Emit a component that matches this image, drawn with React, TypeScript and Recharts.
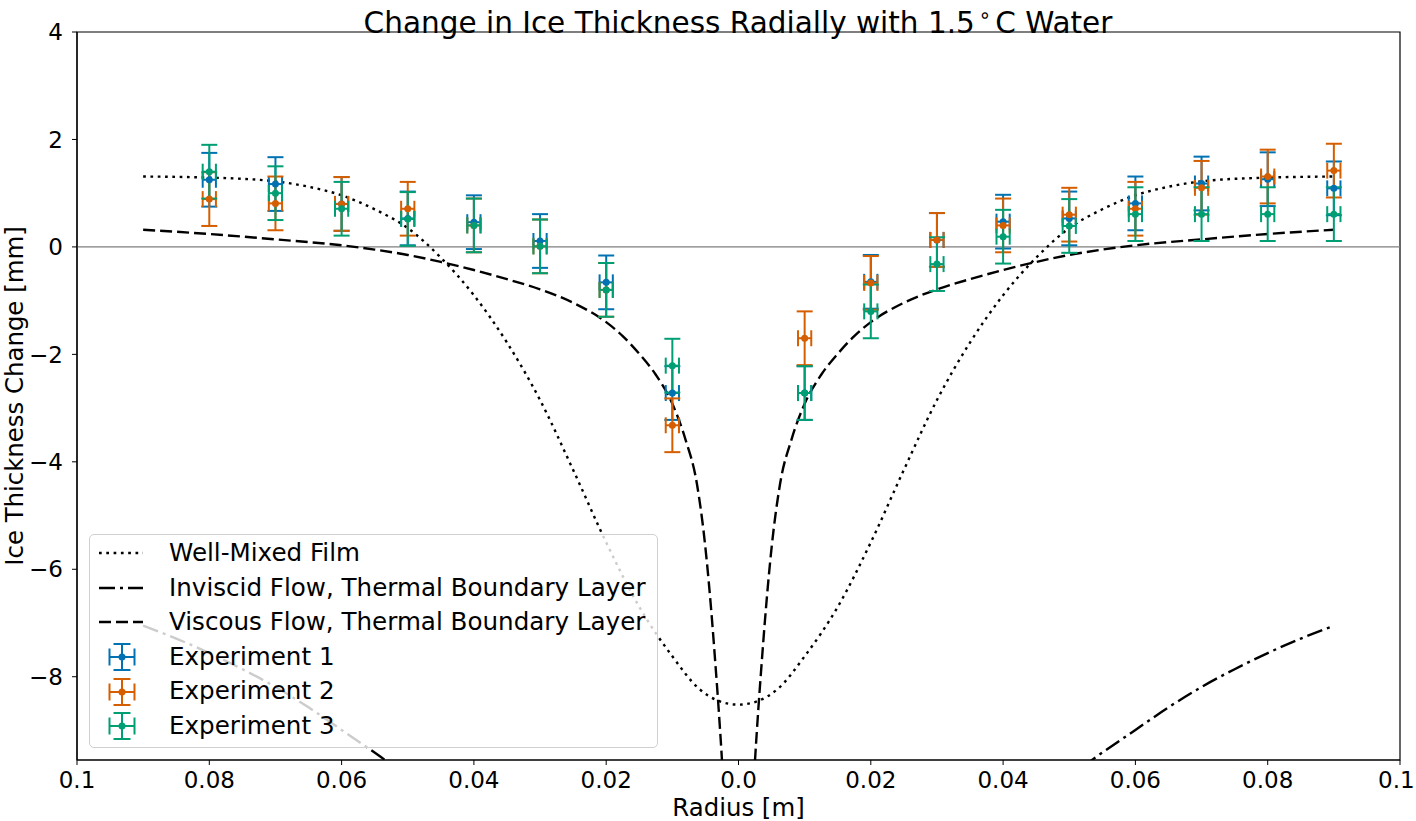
import React from 'react';
import {
  ComposedChart,
  Line,
  Scatter,
  XAxis,
  YAxis,
  ErrorBar,
  ReferenceLine,
  ReferenceArea,
} from 'recharts';

// axis ticks
const radiusTicks = [-0.1, -0.08, -0.06, -0.04, -0.02, 0, 0.02, 0.04, 0.06, 0.08, 0.1];
const radiusTickLabels = ['0.1', '0.08', '0.06', '0.04', '0.02', '0.0', '0.02', '0.04', '0.06', '0.08', '0.1'];
const changeTicks = [-8, -6, -4, -2, 0, 2, 4];
const changeTickLabels = ['−8', '−6', '−4', '−2', '0', '2', '4'];

// model curves, half profile (radius >= 0), symmetric about the centre
const filmRadius = [0, 0.003, 0.006, 0.01, 0.015, 0.02, 0.025, 0.03, 0.035, 0.04, 0.045, 0.05, 0.055, 0.06, 0.065, 0.07, 0.08, 0.09];
const filmChange = [-8.52, -8.45, -8.22, -7.62, -6.7, -5.5, -4.15, -2.85, -1.78, -0.9, -0.2, 0.35, 0.7, 0.96, 1.12, 1.22, 1.29, 1.31];

const inviscidRadius = [0.052, 0.054, 0.06, 0.065, 0.07, 0.075, 0.08, 0.085, 0.09];
const inviscidChange = [-9.68, -9.5, -8.99, -8.57, -8.19, -7.86, -7.56, -7.29, -7.05];

const viscousRadius = [0.0022, 0.0025, 0.003, 0.0035, 0.004, 0.005, 0.0063, 0.008, 0.01, 0.0125, 0.015, 0.0175, 0.02, 0.025, 0.03, 0.035, 0.04, 0.045, 0.05, 0.055, 0.06, 0.07, 0.08, 0.09];
const viscousChange = [-10.2, -9.55, -8.6, -7.75, -6.95, -5.6, -4.4, -3.59, -2.92, -2.38, -1.99, -1.66, -1.4, -1.04, -0.79, -0.6, -0.43, -0.28, -0.15, -0.05, 0.03, 0.14, 0.24, 0.32];

// measurements
const expRadius = [-0.08, -0.07, -0.06, -0.05, -0.04, -0.03, -0.02, -0.01, 0.01, 0.02, 0.03, 0.04, 0.05, 0.06, 0.07, 0.08, 0.09];
const exp1Change = [1.25, 1.17, 0.8, 0.53, 0.46, 0.11, -0.66, -2.72, -2.72, -0.65, 0.13, 0.47, 0.53, 0.81, 1.18, 1.26, 1.09];
const exp2Change = [0.89, 0.81, 0.8, 0.71, 0.4, 0.01, -0.8, -3.32, -1.7, -0.67, 0.13, 0.4, 0.6, 0.71, 1.1, 1.31, 1.42];
const exp3Change = [1.4, 1.0, 0.71, 0.52, 0.4, 0.01, -0.8, -2.21, -2.72, -1.2, -0.32, 0.19, 0.39, 0.61, 0.61, 0.61, 0.61];
const changeError = 0.5;
const radiusError = 0.001;

const FONT = '"DejaVu Sans", sans-serif';
const COLORS = ['#0072B2', '#D55E00', '#009E73'];
const WIDTH = 1416;
const HEIGHT = 821;

// mirror a half profile; gap=true breaks the line at the centre
const mirror = (radius: number[], change: number[], gap: boolean) => {
  const left = radius
    .map((r, i) => ({ x: -r, y: change[i] }))
    .filter((p) => p.x !== 0)
    .reverse();
  const right = radius.map((r, i) => ({ x: r, y: change[i] }));
  return gap ? [...left, { x: 0, y: null }, ...right] : [...left, ...right];
};

const filmData = mirror(filmRadius, filmChange, false);
const inviscidData = mirror(inviscidRadius, inviscidChange, true);
const viscousData = mirror(viscousRadius, viscousChange, true);

const expRows = (values: number[]) =>
  expRadius.map((r, i) => ({ x: r, y: values[i], ex: radiusError, ey: changeError }));

const experiments = [
  { name: 'Experiment 1', data: expRows(exp1Change), color: COLORS[0] },
  { name: 'Experiment 2', data: expRows(exp2Change), color: COLORS[1] },
  { name: 'Experiment 3', data: expRows(exp3Change), color: COLORS[2] },
];

const DOTTED = '2.7 4.6';
const DASHDOT = '16 5 3 5';
const DASHED = '12 5';

const LABEL_SIZE = 24.4;
const TICK_SIZE = 23;

const lookup = (ticks: number[], labels: string[], v: number) =>
  labels[ticks.findIndex((t) => Math.abs(t - v) < 1e-9)] ?? '';

// x tick: keep the outermost label inside the picture
const RadiusTick = ({ x, y, payload }: any) => {
  const label = lookup(radiusTicks, radiusTickLabels, payload.value);
  const half = label.length * TICK_SIZE * 0.27;
  const cx = Math.min(x, WIDTH - half - 1);
  return (
    <text x={cx} y={y} dy="0.71em" textAnchor="middle" fontSize={TICK_SIZE} fill="#000" fontFamily={FONT}>
      {label}
    </text>
  );
};

const XAxisTitle = ({ viewBox }: any) => (
  <text x={viewBox.x + viewBox.width / 2} y={viewBox.y + 56} textAnchor="middle" fontSize={LABEL_SIZE} fill="#000" fontFamily={FONT}>
    Radius [m]
  </text>
);

const YAxisTitle = ({ viewBox }: any) => {
  const cx = 23;
  const cy = viewBox.y + viewBox.height / 2;
  return (
    <text x={cx} y={cy} transform={`rotate(-90 ${cx} ${cy})`} textAnchor="middle" fontSize={LABEL_SIZE} fill="#000" fontFamily={FONT}>
      Ice Thickness Change [mm]
    </text>
  );
};

const Dot = (props: any) => <circle cx={props.cx} cy={props.cy} r={3.5} fill={props.fill} />;

const LineIcon = ({ dash }: { dash: string }) => (
  <svg width={44} height={10}>
    <line x1={0} y1={5} x2={44} y2={5} stroke="#000" strokeWidth={2.4} strokeDasharray={dash} />
  </svg>
);

const ErrorIcon = ({ color }: { color: string }) => (
  <svg width={44} height={30}>
    <g stroke={color} strokeWidth={2}>
      <line x1={23} y1={2} x2={23} y2={28} />
      <line x1={14.5} y1={2} x2={31.5} y2={2} />
      <line x1={14.5} y1={28} x2={31.5} y2={28} />
      <line x1={10.5} y1={15} x2={35.5} y2={15} />
      <line x1={10.5} y1={6.5} x2={10.5} y2={23.5} />
      <line x1={35.5} y1={6.5} x2={35.5} y2={23.5} />
    </g>
    <circle cx={23} cy={15} r={3.5} fill={color} />
  </svg>
);

const legendItems = [
  { label: 'Well-Mixed Film', icon: <LineIcon dash={DOTTED} /> },
  { label: 'Inviscid Flow, Thermal Boundary Layer', icon: <LineIcon dash={DASHDOT} /> },
  { label: 'Viscous Flow, Thermal Boundary Layer', icon: <LineIcon dash={DASHED} /> },
  ...experiments.map((e) => ({ label: e.name, icon: <ErrorIcon color={e.color} /> })),
];

const App = () => {
  const changeLabel = (v: number) => lookup(changeTicks, changeTickLabels, v);

  return (
    <div style={{ position: 'absolute', left: 0, top: 0, width: WIDTH, height: HEIGHT, background: '#fff', fontFamily: FONT }}>
      <div
        style={{
          position: 'absolute',
          left: 77,
          width: 1322,
          top: 0,
          textAlign: 'center',
          fontSize: 29.5,
          lineHeight: '30px',
          color: '#000',
          whiteSpace: 'nowrap',
        }}
      >
        Change in Ice Thickness Radially with 1.5
        <span style={{ fontSize: '0.7em', verticalAlign: '0.55em', margin: '0 0.18em' }}>∘</span>C Water
      </div>

      <ComposedChart width={WIDTH} height={HEIGHT} margin={{ top: 32, right: 16, bottom: 0, left: 0 }}>
        <XAxis
          dataKey="x"
          type="number"
          domain={[-0.1, 0.1]}
          ticks={radiusTicks}
          interval={0}
          allowDataOverflow
          height={61}
          tickSize={5}
          tickMargin={7}
          tick={<RadiusTick />}
          tickLine={{ stroke: '#000' }}
          axisLine={{ stroke: '#000', strokeWidth: 1.2 }}
          label={<XAxisTitle />}
        />
        <YAxis
          dataKey="y"
          type="number"
          domain={[-9.55, 4]}
          ticks={changeTicks}
          interval={0}
          allowDataOverflow
          tickFormatter={changeLabel}
          width={77}
          tickSize={5}
          tickMargin={9}
          tick={{ fill: '#000', fontSize: TICK_SIZE, fontFamily: FONT }}
          tickLine={{ stroke: '#000' }}
          axisLine={{ stroke: '#000', strokeWidth: 1.2 }}
          label={<YAxisTitle />}
        />
        <ReferenceLine y={0} stroke="#7f7f7f" strokeWidth={1.2} />

        <Line data={filmData} dataKey="y" type="monotone" stroke="#000" strokeWidth={2.4} strokeDasharray={DOTTED} dot={false} isAnimationActive={false} />
        <Line data={inviscidData} dataKey="y" type="monotone" stroke="#000" strokeWidth={2.4} strokeDasharray={DASHDOT} dot={false} isAnimationActive={false} />
        <Line data={viscousData} dataKey="y" type="monotone" stroke="#000" strokeWidth={2.4} strokeDasharray={DASHED} dot={false} isAnimationActive={false} />

        {experiments.map((e) => (
          <Scatter key={e.name} name={e.name} data={e.data} fill={e.color} shape={<Dot />} isAnimationActive={false}>
            <ErrorBar dataKey="ey" direction="y" width={8} stroke={e.color} strokeWidth={2} isAnimationActive={false} />
            <ErrorBar dataKey="ex" direction="x" width={8} stroke={e.color} strokeWidth={2} isAnimationActive={false} />
          </Scatter>
        ))}

        <ReferenceArea x1={-0.1} x2={0.1} y1={-9.55} y2={4} fill="none" stroke="#000" strokeWidth={1.2} fillOpacity={0} />
      </ComposedChart>

      <div
        style={{
          position: 'absolute',
          left: 89,
          top: 534,
          width: 569,
          height: 214,
          boxSizing: 'border-box',
          border: '1px solid #d0d0d0',
          borderRadius: 5,
          background: 'rgba(255,255,255,0.8)',
        }}
      >
        {legendItems.map((item, i) => (
          <div
            key={item.label}
            style={{
              position: 'absolute',
              left: 0,
              top: 1 + i * 34.6,
              height: 34.6,
              width: '100%',
            }}
          >
            <div style={{ position: 'absolute', left: 9, top: 0, height: 34.6, width: 44, display: 'flex', alignItems: 'center' }}>
              {item.icon}
            </div>
            <span style={{ position: 'absolute', left: 79, top: 0, fontSize: 24.6, lineHeight: '34.6px', color: '#000', whiteSpace: 'nowrap' }}>
              {item.label}
            </span>
          </div>
        ))}
      </div>
    </div>
  );
};

export default App;
